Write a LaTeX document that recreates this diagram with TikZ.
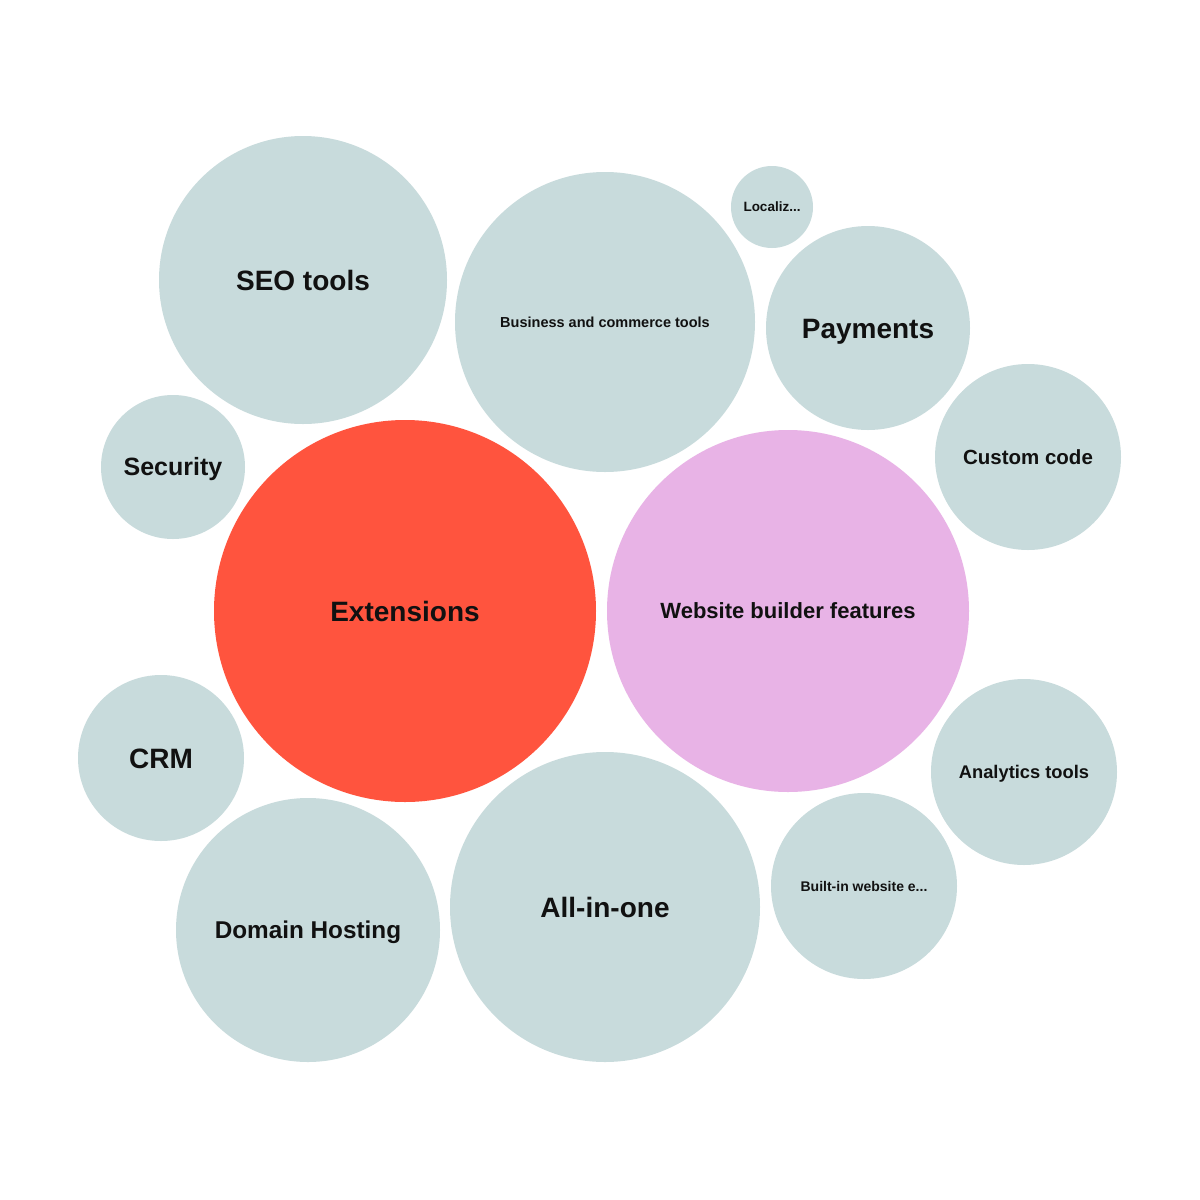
\documentclass[tikz,border=0pt]{standalone}
\usepackage{fontspec}
\setmainfont{Liberation Sans}
\definecolor{bubgrey}{HTML}{C8DBDC}
\definecolor{bubred}{HTML}{FF543E}
\definecolor{bubpink}{HTML}{E8B3E6}
\definecolor{txt}{HTML}{111111}
\tikzset{
  bub/.style={circle, fill=bubgrey, draw=none, inner sep=0pt, align=center, text=txt},
  fsz/.style={font=\bfseries\fontsize{#1}{#1}\selectfont, text height={0.716*#1 pt}, text depth=0pt},
}
\begin{document}
\begin{tikzpicture}[x=1pt,y=-1pt]
\useasboundingbox (0,0) rectangle (1200,1200);
\fill[white] (0,0) rectangle (1200,1200);
\node[bub, fsz=28, minimum size=288pt] (seo) at (303,280) {SEO tools};
\node[bub, fsz=14.5, minimum size=300pt] (biz) at (605,322) {Business and commerce tools};
\node[bub, fsz=13.5, minimum size=82pt] (loc) at (772,207) {Localiz...};
\node[bub, fsz=28, minimum size=204pt] (pay) at (868,328) {Payments};
\node[bub, fsz=25, minimum size=144pt] (sec) at (173,467) {Security};
\node[bub, fsz=28, fill=bubred, minimum size=382pt] (ext) at (405,611) {Extensions};
\node[bub, fsz=22, fill=bubpink, minimum size=362pt] (web) at (788,611) {Website builder features};
\node[bub, fsz=20.5, minimum size=186pt] (code) at (1028,457) {Custom code};
\node[bub, fsz=28, minimum size=166pt] (crm) at (161,758) {CRM};
\node[bub, fsz=24.3, minimum size=264pt] (dom) at (308,930) {Domain Hosting};
\node[bub, fsz=28, minimum size=310pt] (all) at (605,907) {All-in-one};
\node[bub, fsz=14, minimum size=186pt] (blt) at (864,886) {Built-in website e...};
\node[bub, fsz=18.3, minimum size=186pt] (ana) at (1024,772) {Analytics tools};
\end{tikzpicture}
\end{document}
